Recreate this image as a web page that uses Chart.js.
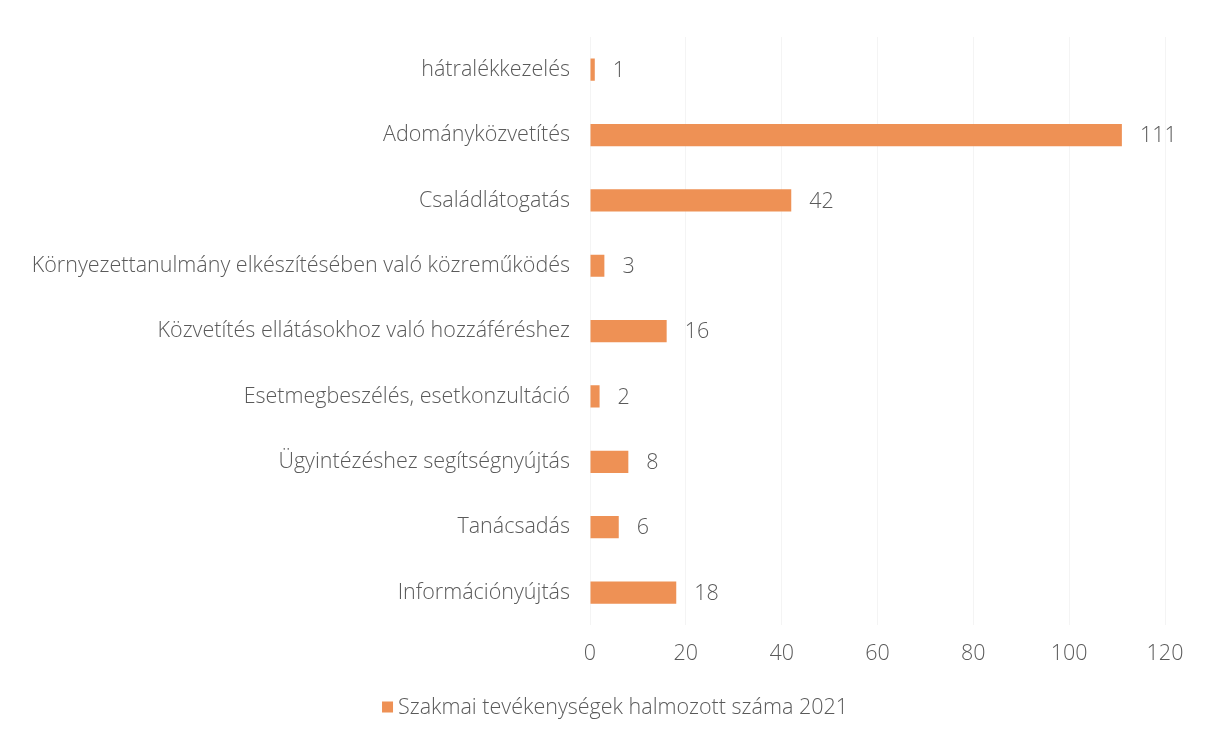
<!DOCTYPE html>
<html>
<head>
<meta charset="utf-8">
<script src="https://cdn.jsdelivr.net/npm/chart.js@4"></script>
<style>
html,body{margin:0;padding:0;background:#fff;}
#wrap{width:1205px;height:743px;}
</style>
</head>
<body>
<div id="wrap"><canvas id="c" width="1205" height="743"></canvas></div>
<script>
const categories = [
  "hátralékkezelés",
  "Adományközvetítés",
  "Családlátogatás",
  "Környezettanulmány elkészítésében való közreműködés",
  "Közvetítés ellátásokhoz való hozzáféréshez",
  "Esetmegbeszélés, esetkonzultáció",
  "Ügyintézéshez segítségnyújtás",
  "Tanácsadás",
  "Információnyújtás"
];
const values = [1, 111, 42, 3, 16, 2, 8, 6, 18];
const seriesName = "Szakmai tevékenységek halmozott száma 2021";
const xTicks = [0, 20, 40, 60, 80, 100, 120];

const FONT = "'Open Sans', sans-serif";
const FW = 300;
const FS = 21.5;
const TXT = "#5a5a5a";
const ORANGE = "#EE9155";

const valueLabels = {
  id: 'valueLabels',
  afterDatasetsDraw(chart) {
    const ctx = chart.ctx;
    const meta = chart.getDatasetMeta(0);
    ctx.save();
    ctx.fillStyle = TXT;
    ctx.font = FW + " " + FS + "px " + FONT;
    ctx.textBaseline = 'middle';
    ctx.textAlign = 'left';
    meta.data.forEach((bar, i) => {
      ctx.fillText(String(values[i]), bar.x + 18, bar.y + 1);
    });
    ctx.restore();
  }
};

const bottomLegend = {
  id: 'bottomLegend',
  afterDraw(chart) {
    const ctx = chart.ctx;
    const ds = chart.data.datasets[0];
    ctx.save();
    ctx.font = FW + " " + FS + "px " + FONT;
    const tw = ctx.measureText(ds.label).width;
    const box = 11, gap = 5;
    const total = box + gap + tw;
    const cx = 615, cy = 707;
    const x0 = cx - total / 2;
    ctx.fillStyle = ds.backgroundColor;
    ctx.fillRect(x0, cy - box / 2, box, box);
    ctx.fillStyle = TXT;
    ctx.textBaseline = 'middle';
    ctx.textAlign = 'left';
    ctx.fillText(ds.label, x0 + box + gap, cy + 1);
    ctx.restore();
  }
};

new Chart(document.getElementById('c'), {
  type: 'bar',
  data: {
    labels: categories,
    datasets: [{
      label: seriesName,
      data: values,
      backgroundColor: ORANGE,
      borderWidth: 0,
      barPercentage: 0.68,
      categoryPercentage: 0.5
    }]
  },
  options: {
    indexAxis: 'y',
    responsive: false,
    animation: false,
    layout: { padding: { top: 37, right: 40, left: 0, bottom: 60 } },
    scales: {
      x: {
        min: 0, max: 120,
        afterBuildTicks(axis) { axis.ticks = xTicks.map(v => ({ value: v })); },
        grid: { color: "#f4f4f4", drawTicks: false },
        border: { display: false },
        ticks: { color: TXT, font: { family: FONT, size: FS, weight: FW }, padding: 16 }
      },
      y: {
        afterFit(axis) { axis.width = 590; },
        grid: { display: false, drawTicks: false },
        border: { display: false },
        ticks: { color: TXT, font: { family: FONT, size: FS, weight: FW }, padding: 20 }
      }
    },
    plugins: {
      legend: { display: false },
      tooltip: { enabled: false }
    }
  },
  plugins: [valueLabels, bottomLegend]
});
</script>
</body>
</html>
